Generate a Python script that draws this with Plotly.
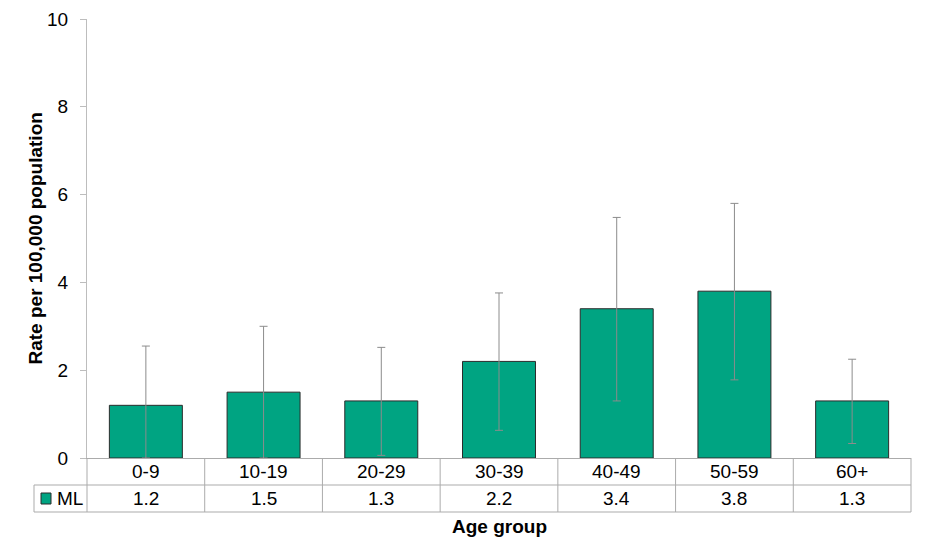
import plotly.graph_objects as go

# data
age_groups = ["0-9", "10-19", "20-29", "30-39", "40-49", "50-59", "60+"]
rates = [1.2, 1.5, 1.3, 2.2, 3.4, 3.8, 1.3]
upper_ci = [2.55, 3.0, 2.52, 3.76, 5.48, 5.8, 2.25]
lower_ci = [0.0, 0.0, 0.06, 0.63, 1.3, 1.78, 0.33]
series_name = "ML"

BAR_COLOR = "#00A482"
GRID_COLOR = "#ABABAB"
AXIS_COLOR = "#BDBDBD"
FONT = "Liberation Sans, Arial, sans-serif"
FS = 19

# the page body has an 8px margin, so the figure is a bit smaller than the window
W, H = 922, 550
M = dict(l=79, r=19, t=11, b=100)
plot_w = W - M["l"] - M["r"]
plot_h = H - M["t"] - M["b"]


def px_y(p):
    # pixels below the x axis -> paper y
    return -p / plot_h


def px_x(p):
    # pixels from the y axis -> paper x
    return p / plot_w


n = len(age_groups)
err_plus = [u - r for u, r in zip(upper_ci, rates)]
err_minus = [r - l for r, l in zip(rates, lower_ci)]

fig = go.Figure()
fig.add_trace(
    go.Bar(
        x=age_groups,
        y=rates,
        name=series_name,
        width=0.62,
        marker=dict(color=BAR_COLOR, line=dict(color="#2b2b2b", width=1)),
        error_y=dict(
            type="data",
            array=err_plus,
            arrayminus=err_minus,
            color="#8C8C8C",
            thickness=1,
            width=4,
        ),
        showlegend=False,
    )
)

shapes = []
annotations = []
row1, row2 = 27, 54

# table grid
line = dict(color=GRID_COLOR, width=1)
shapes.append(dict(type="line", xref="paper", yref="paper", x0=px_x(-53), x1=1,
                   y0=px_y(row1), y1=px_y(row1), line=line))
shapes.append(dict(type="line", xref="paper", yref="paper", x0=px_x(-53), x1=1,
                   y0=px_y(row2), y1=px_y(row2), line=line))
shapes.append(dict(type="line", xref="paper", yref="paper", x0=px_x(-53), x1=px_x(-53),
                   y0=px_y(row1), y1=px_y(row2), line=line))
for k in range(n + 1):
    shapes.append(dict(type="line", xref="paper", yref="paper", x0=k / n, x1=k / n,
                       y0=0, y1=px_y(row2), line=line))

# legend key
shapes.append(dict(type="rect", xref="paper", yref="paper",
                   x0=px_x(-46), x1=px_x(-36), y0=px_y(35), y1=px_y(46),
                   fillcolor=BAR_COLOR, line=dict(color="#2b2b2b", width=1)))
annotations.append(dict(text=series_name, xref="paper", yref="paper",
                        x=px_x(-32), y=px_y(40.5), xanchor="left", yanchor="middle",
                        showarrow=False, font=dict(size=FS, color="#000")))

for g, r in zip(age_groups, rates):
    annotations.append(dict(text=g, xref="x", yref="paper", x=g, y=px_y(13.5),
                            yanchor="middle", showarrow=False,
                            font=dict(size=FS, color="#000")))
    annotations.append(dict(text=f"{r:.1f}", xref="x", yref="paper", x=g, y=px_y(40.5),
                            yanchor="middle", showarrow=False,
                            font=dict(size=FS, color="#000")))

# axis titles
annotations.append(dict(text="<b>Age group</b>", xref="paper", yref="paper",
                        x=0.5, y=px_y(68), yanchor="middle", showarrow=False,
                        font=dict(size=FS, color="#000")))
annotations.append(dict(text="<b>Rate per 100,000 population</b>", xref="paper", yref="paper",
                        x=px_x(-52), y=0.5, textangle=-90, xanchor="center", yanchor="middle",
                        showarrow=False, font=dict(size=FS, color="#000")))

fig.update_layout(
    width=W,
    height=H,
    margin=dict(M, autoexpand=False),
    plot_bgcolor="white",
    paper_bgcolor="white",
    font=dict(family=FONT, size=FS, color="#000"),
    shapes=shapes,
    annotations=annotations,
    xaxis=dict(
        range=[-0.5, n - 0.5],
        showticklabels=False,
        ticks="",
        showline=True,
        linecolor=GRID_COLOR,
        linewidth=1,
        showgrid=False,
        automargin=False,
        fixedrange=True,
    ),
    yaxis=dict(
        range=[0, 10],
        dtick=2,
        tickfont=dict(size=FS),
        ticks="outside",
        ticklen=6,
        tickcolor=AXIS_COLOR,
        ticklabelstandoff=8,
        showline=True,
        linecolor=AXIS_COLOR,
        linewidth=1,
        showgrid=False,
        zeroline=False,
        automargin=False,
        fixedrange=True,
    ),
)

fig.write_html("out.html", config=dict(displayModeBar=False))
